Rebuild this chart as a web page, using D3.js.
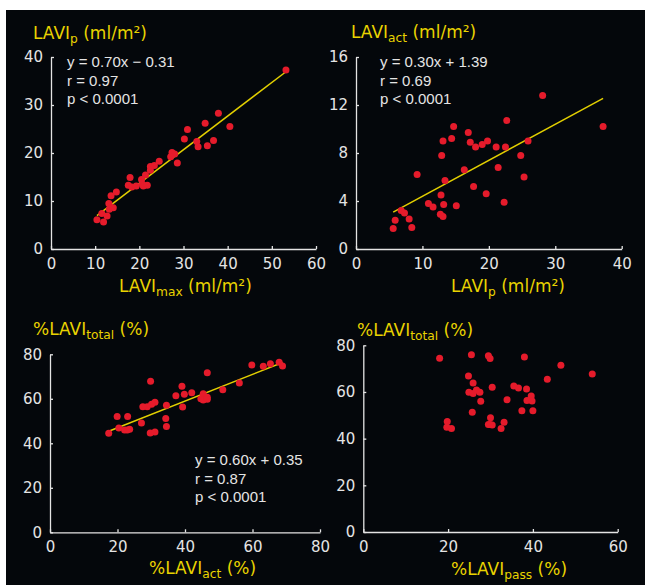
<!DOCTYPE html>
<html>
<head>
<meta charset="utf-8">
<script src="https://cdn.jsdelivr.net/npm/d3@7"></script>
<style>
  html, body { margin: 0; padding: 0; background: #ffffff; }
  svg { display: block; }
</style>
</head>
<body>
<div id="chart"></div>
<script>
// ---- Data (ml/m² and %) ----
// Panel A: LAVImax vs LAVIp
const laviMaxA = [53.2, 37.9, 34.9, 40.5, 30.9, 30.2, 33.0, 36.8, 33.3, 35.4, 27.4, 28.0, 27.1, 28.6, 24.5, 23.4, 22.5, 22.5,
                  21.4, 17.9, 20.5, 17.5, 18.3, 19.3, 20.7, 20.9, 21.8, 14.8, 13.6, 13.1, 13.2, 14.1, 11.5, 12.7, 10.4, 11.9];
const laviPA    = [37.3, 28.3, 26.2, 25.5, 24.9, 22.9, 22.4, 22.6, 21.3, 21.5, 20.1, 19.8, 19.2, 17.9, 18.3, 17.4, 17.2, 16.4,
                  15.4, 14.9, 14.5, 13.3, 12.9, 13.1, 13.5, 13.1, 13.3, 11.9, 11.1, 9.5, 8.3, 8.6, 7.4, 6.9, 6.1, 5.6];

// Panel B: LAVIp vs LAVIact
const laviPB    = [28.1, 37.2, 22.7, 14.7, 16.9, 13.1, 14.4, 17.2, 18.0, 19.0, 19.8, 21.1, 22.5, 25.9, 12.9, 24.8, 21.4, 9.2, 16.3,
                  13.4, 25.3, 17.7, 19.6, 12.8, 22.3, 10.9, 11.6, 13.2, 15.1, 12.7, 13.1, 6.8, 7.3, 5.9, 8.0, 5.6, 8.4];
const laviActB  = [12.8, 10.2, 10.7, 10.2, 9.7, 9.0, 9.2, 8.9, 8.5, 8.7, 9.0, 8.5, 8.5, 9.0, 7.8, 7.8, 6.8, 6.2, 6.6,
                  5.7, 6.0, 5.2, 4.6, 4.5, 3.9, 3.8, 3.5, 3.7, 3.6, 2.9, 2.7, 3.2, 3.0, 2.4, 2.5, 1.7, 1.8];

// Panel C: %LAVIact vs %LAVItotal
const pctActC   = [59.8, 63.2, 65.3, 67.9, 68.9, 46.6, 29.8, 56.1, 39.1, 51.2, 42.0, 39.8, 37.3, 45.4, 44.7, 45.4, 46.6, 46.6,
                  31.1, 30.1, 28.8, 27.5, 34.5, 39.3, 19.9, 23.0, 34.3, 27.1, 34.5, 20.4, 22.1, 22.9, 23.6, 17.4, 29.7, 31.1];
const pctTotalC = [75.2, 74.6, 75.8, 76.4, 74.7, 71.7, 67.9, 67.1, 65.6, 64.1, 62.7, 62.0, 61.4, 62.3, 60.0, 59.5, 60.7, 59.8,
                  58.4, 57.5, 56.4, 56.4, 57.1, 56.3, 52.1, 52.1, 51.2, 49.1, 47.5, 46.9, 46.0, 46.0, 46.3, 44.5, 44.6, 45.1];

// Panel D: %LAVIpass vs %LAVItotal
const pctPassD  = [18.0, 25.5, 29.5, 29.9, 38.0, 46.6, 54.0, 43.4, 24.8, 25.9, 30.4, 35.5, 36.6, 38.5, 24.9, 25.9, 26.7, 27.5,
                  27.7, 33.9, 39.6, 38.6, 39.8, 37.4, 40.0, 25.7, 30.0, 33.2, 29.5, 30.4, 32.5, 19.8, 19.7, 20.8, 29.9];
const pctTotalD = [74.4, 76.0, 75.5, 74.3, 75.0, 71.4, 67.7, 65.4, 66.8, 63.8, 62.0, 62.6, 61.7, 61.3, 59.9, 59.4, 60.8, 59.9,
                  56.0, 56.7, 58.3, 56.4, 56.1, 52.0, 52.0, 51.3, 49.0, 47.0, 46.1, 45.8, 44.4, 47.4, 44.9, 44.4, 46.1];

// Tick values
const ticksAx = [0, 10, 20, 30, 40, 50, 60];
const ticksAy = [0, 10, 20, 30, 40];
const ticksBx = [0, 10, 20, 30, 40];
const ticksBy = [0, 4, 8, 12, 16];
const ticksCx = [0, 20, 40, 60, 80];
const ticksCy = [0, 20, 40, 60, 80];
const ticksDx = [0, 20, 40, 60];
const ticksDy = [0, 20, 40, 60, 80];

// Regression fits [slope, intercept]
const fitA = [0.70, -0.31];
const fitB = [0.30, 1.39];
const fitC = [0.60, 0.35];   // intercept as a fraction; the axes are in %

// Statistics text
const statsA = ["y = 0.70x \u2212 0.31", "r = 0.97", "p < 0.0001"];
const statsB = ["y = 0.30x + 1.39", "r = 0.69", "p < 0.0001"];
const statsC = ["y = 0.60x + 0.35", "r = 0.87", "p < 0.0001"];

// ---- Styles ----
const BG = "#04070b";
const AXIS = "#e4e4e4";
const YELLOW = "#e9d300";
const LINE = "#e2cf00";
const DOT = "#e51b2b";
const FONT = "'DejaVu Sans', 'Liberation Sans', sans-serif";
const STAT_FONT = "'Liberation Sans', Arial, sans-serif";

const W = 645, H = 585;
const svg = d3.select("#chart").append("svg").attr("width", W).attr("height", H);
svg.append("rect").attr("width", W).attr("height", H).attr("fill", "#ffffff");
svg.append("rect").attr("x", 6).attr("y", 10).attr("width", W - 6).attr("height", H - 10).attr("fill", BG);

function label(g, x, y, parts, size) {
  const t = g.append("text").attr("x", x).attr("y", y)
    .attr("fill", YELLOW).attr("font-family", FONT).attr("font-size", size);
  let shift = 0;
  parts.forEach(p => {
    const want = p.sub ? 4 : 0;
    t.append("tspan")
      .attr("dy", want - shift)
      .attr("font-size", p.sub ? size * 0.72 : size)
      .text(p.t);
    shift = want;
  });
}

function panel(cfg) {
  const g = svg.append("g");
  const x = d3.scaleLinear().domain(cfg.xDomain).range(cfg.xRange);
  const y = d3.scaleLinear().domain(cfg.yDomain).range(cfg.yRange);

  const xAxis = d3.axisBottom(x).tickValues(cfg.xTicks).tickFormat(d3.format("d"))
    .tickSizeInner(-3).tickSizeOuter(0).tickPadding(9);
  const yAxis = d3.axisLeft(y).tickValues(cfg.yTicks).tickFormat(d3.format("d"))
    .tickSizeInner(-3).tickSizeOuter(0).tickPadding(8);

  const gx = g.append("g").attr("transform", `translate(0,${cfg.yRange[0]})`).call(xAxis);
  const gy = g.append("g").attr("transform", `translate(${cfg.xRange[0]},0)`).call(yAxis);
  [gx, gy].forEach(a => {
    a.select(".domain").attr("stroke", AXIS).attr("stroke-width", 1.3);
    a.selectAll(".tick line").attr("stroke", AXIS).attr("stroke-width", 1.3);
    a.selectAll(".tick text").attr("fill", AXIS).attr("font-family", FONT).attr("font-size", 15);
  });

  if (cfg.fit) {
    const [x0, x1] = d3.extent(cfg.xs);
    const f = v => cfg.fit[0] * v + cfg.fit[1] * cfg.interceptScale;
    g.append("line")
      .attr("x1", x(x0)).attr("y1", y(f(x0)))
      .attr("x2", x(x1)).attr("y2", y(f(x1)))
      .attr("stroke", LINE).attr("stroke-width", 1.5);
  }

  g.append("g").selectAll("circle")
    .data(d3.range(cfg.xs.length))
    .join("circle")
    .attr("cx", i => x(cfg.xs[i]))
    .attr("cy", i => y(cfg.ys[i]))
    .attr("r", 3.5)
    .attr("fill", DOT);

  if (cfg.stats) {
    const st = g.append("text").attr("fill", AXIS).attr("font-family", STAT_FONT).attr("font-size", 15);
    cfg.stats.forEach((s, i) => {
      st.append("tspan").attr("x", cfg.statsPos[0]).attr("y", cfg.statsPos[1] + i * 18.7).text(s);
    });
  }

  label(g, cfg.yTitlePos[0], cfg.yTitlePos[1], cfg.yTitle, 17);
  label(g, cfg.xTitlePos[0], cfg.xTitlePos[1], cfg.xTitle, 17);
}

panel({
  xs: laviMaxA, ys: laviPA,
  xDomain: [0, 60], xRange: [51, 316], yDomain: [0, 40], yRange: [249, 57],
  xTicks: ticksAx, yTicks: ticksAy,
  fit: fitA, interceptScale: 1,
  stats: statsA, statsPos: [67, 67],
  yTitle: [{t: "LAVI"}, {t: "p", sub: true}, {t: " (ml/m\u00B2)"}], yTitlePos: [33, 39],
  xTitle: [{t: "LAVI"}, {t: "max", sub: true}, {t: " (ml/m\u00B2)"}], xTitlePos: [119, 292]
});

panel({
  xs: laviPB, ys: laviActB,
  xDomain: [0, 40], xRange: [356, 621.7], yDomain: [0, 16], yRange: [249, 57],
  xTicks: ticksBx, yTicks: ticksBy,
  fit: fitB, interceptScale: 1,
  stats: statsB, statsPos: [380, 67],
  yTitle: [{t: "LAVI"}, {t: "act", sub: true}, {t: " (ml/m\u00B2)"}], yTitlePos: [351, 38],
  xTitle: [{t: "LAVI"}, {t: "p", sub: true}, {t: " (ml/m\u00B2)"}], xTitlePos: [451, 292]
});

panel({
  xs: pctActC, ys: pctTotalC,
  xDomain: [0, 80], xRange: [50, 320], yDomain: [0, 80], yRange: [532.3, 354.3],
  xTicks: ticksCx, yTicks: ticksCy,
  fit: fitC, interceptScale: 100,
  stats: statsC, statsPos: [195, 465],
  yTitle: [{t: "%LAVI"}, {t: "total", sub: true}, {t: " (%)"}], yTitlePos: [33, 335],
  xTitle: [{t: "%LAVI"}, {t: "act", sub: true}, {t: " (%)"}], xTitlePos: [149, 574]
});

panel({
  xs: pctPassD, ys: pctTotalD,
  xDomain: [0, 60], xRange: [363.3, 617.7], yDomain: [0, 80], yRange: [532, 345.3],
  xTicks: ticksDx, yTicks: ticksDy,
  fit: null,
  stats: null,
  yTitle: [{t: "%LAVI"}, {t: "total", sub: true}, {t: " (%)"}], yTitlePos: [357, 336],
  xTitle: [{t: "%LAVI"}, {t: "pass", sub: true}, {t: " (%)"}], xTitlePos: [451, 575]
});
</script>
</body>
</html>
